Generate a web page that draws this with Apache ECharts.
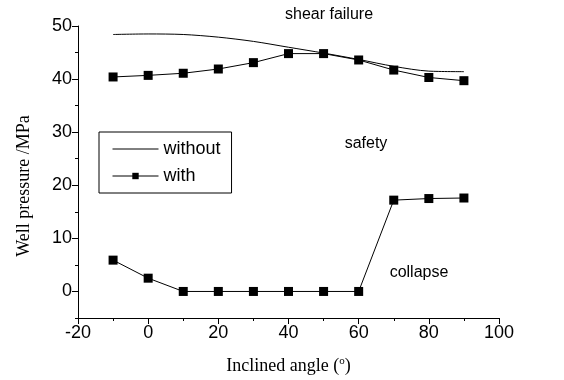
<!DOCTYPE html>
<html><head><meta charset="utf-8">
<script src="https://cdn.jsdelivr.net/npm/echarts@6/dist/echarts.min.js"></script>
<style>html,body{margin:0;padding:0;background:#fff}#c{width:564px;height:380px}</style>
</head><body><div id="c"></div>
<script>
const angles = [-10, 0, 10, 20, 30, 40, 50, 60, 70, 80, 90];
const withoutUpper = [48.4, 48.5, 48.4, 47.9, 47.1, 46.0, 44.9, 43.7, 42.4, 41.5, 41.4];
const withUpper = [40.4, 40.7, 41.1, 41.9, 43.1, 44.8, 44.8, 43.6, 41.7, 40.3, 39.7];
const withLower = [5.9, 2.5, 0, 0, 0, 0, 0, 0, 17.2, 17.5, 17.6];
const xTicks = [-20, 0, 20, 40, 60, 80, 100];
const yTicks = [0, 10, 20, 30, 40, 50];
const regionLabels = [
  {text: 'shear failure', x: 329, y: 15},
  {text: 'safety', x: 366, y: 144},
  {text: 'collapse', x: 419, y: 273}
];

const pair = (xs, ys) => xs.map((x, i) => [x, ys[i]]);
const chart = echarts.init(document.getElementById('c'), null, {renderer: 'canvas'});
const font = 'Arial, "Liberation Sans", sans-serif';
const serif = '"Times New Roman", "Liberation Serif", serif';
chart.setOption({
  animation: false,
  backgroundColor: '#fff',
  grid: {left: 78, right: 65, top: 26, bottom: 60},
  legend: {
    left: 99, top: 132, orient: 'vertical',
    padding: [8, 11, 8, 13],
    borderColor: '#000', borderWidth: 1, borderRadius: 0,
    itemWidth: 46, itemHeight: 8, itemGap: 9,
    lineStyle: {width: 1, color: '#000'},
    textStyle: {fontFamily: font, fontSize: 18, color: '#000'},
    data: [{name: 'without', itemStyle: {opacity: 0}}, 'with']
  },
  xAxis: {
    type: 'value', min: -20, max: 100, interval: 20,
    name: '{a|Inclined angle (}{s|o}{a|)}', nameLocation: 'middle', nameGap: 38,
    nameTextStyle: {rich: {
      a: {fontFamily: serif, fontSize: 18, color: '#000'},
      s: {fontFamily: serif, fontSize: 11, color: '#000', verticalAlign: 'top', padding: [0, 0, 9, 0]}
    }},
    axisLine: {onZero: false, lineStyle: {color: '#000', width: 1}},
    axisTick: {inside: false, length: 6, lineStyle: {color: '#000'}},
    minorTick: {show: true, splitNumber: 2, length: 3, lineStyle: {color: '#000'}},
    splitLine: {show: false},
    axisLabel: {fontFamily: font, fontSize: 18, color: '#000', margin: 6}
  },
  yAxis: [{
    type: 'value', min: -5, max: 50, interval: 5,
    name: 'Well pressure /MPa', nameLocation: 'middle', nameGap: 45, nameRotate: 90,
    nameTextStyle: {fontFamily: serif, fontSize: 18, color: '#000', padding: [0, 28, 0, 0]},
    axisLine: {show: true, onZero: false, lineStyle: {color: '#000', width: 1}},
    axisTick: {show: true, inside: false, length: 6, customValues: yTicks, lineStyle: {color: '#000'}},
    splitLine: {show: false},
    axisLabel: {fontFamily: font, fontSize: 18, color: '#000', margin: 6, customValues: yTicks}
  }, {
    type: 'value', min: -5, max: 50, interval: 5, position: 'left',
    axisLine: {show: false, onZero: false}, axisLabel: {show: false}, splitLine: {show: false},
    axisTick: {show: true, inside: false, length: 3, lineStyle: {color: '#000'}}
  }],
  series: [
    {name: 'without', type: 'line', data: pair(angles, withoutUpper), smooth: 0.3,
      symbol: 'none', lineStyle: {color: '#000', width: 1}, itemStyle: {color: '#000'}},
    {name: 'with', type: 'line', data: pair(angles, withUpper), symbol: 'rect', symbolSize: 9,
      lineStyle: {color: '#000', width: 1}, itemStyle: {color: '#000'}},
    {name: 'with', type: 'line', data: pair(angles, withLower), symbol: 'rect', symbolSize: 9,
      lineStyle: {color: '#000', width: 1}, itemStyle: {color: '#000'}}
  ],
  graphic: regionLabels.map(l => ({type: 'text', x: l.x, y: l.y,
    style: {text: l.text, font: '16px ' + font, fill: '#000', textAlign: 'center', textVerticalAlign: 'middle'}}))
});
</script></body></html>
